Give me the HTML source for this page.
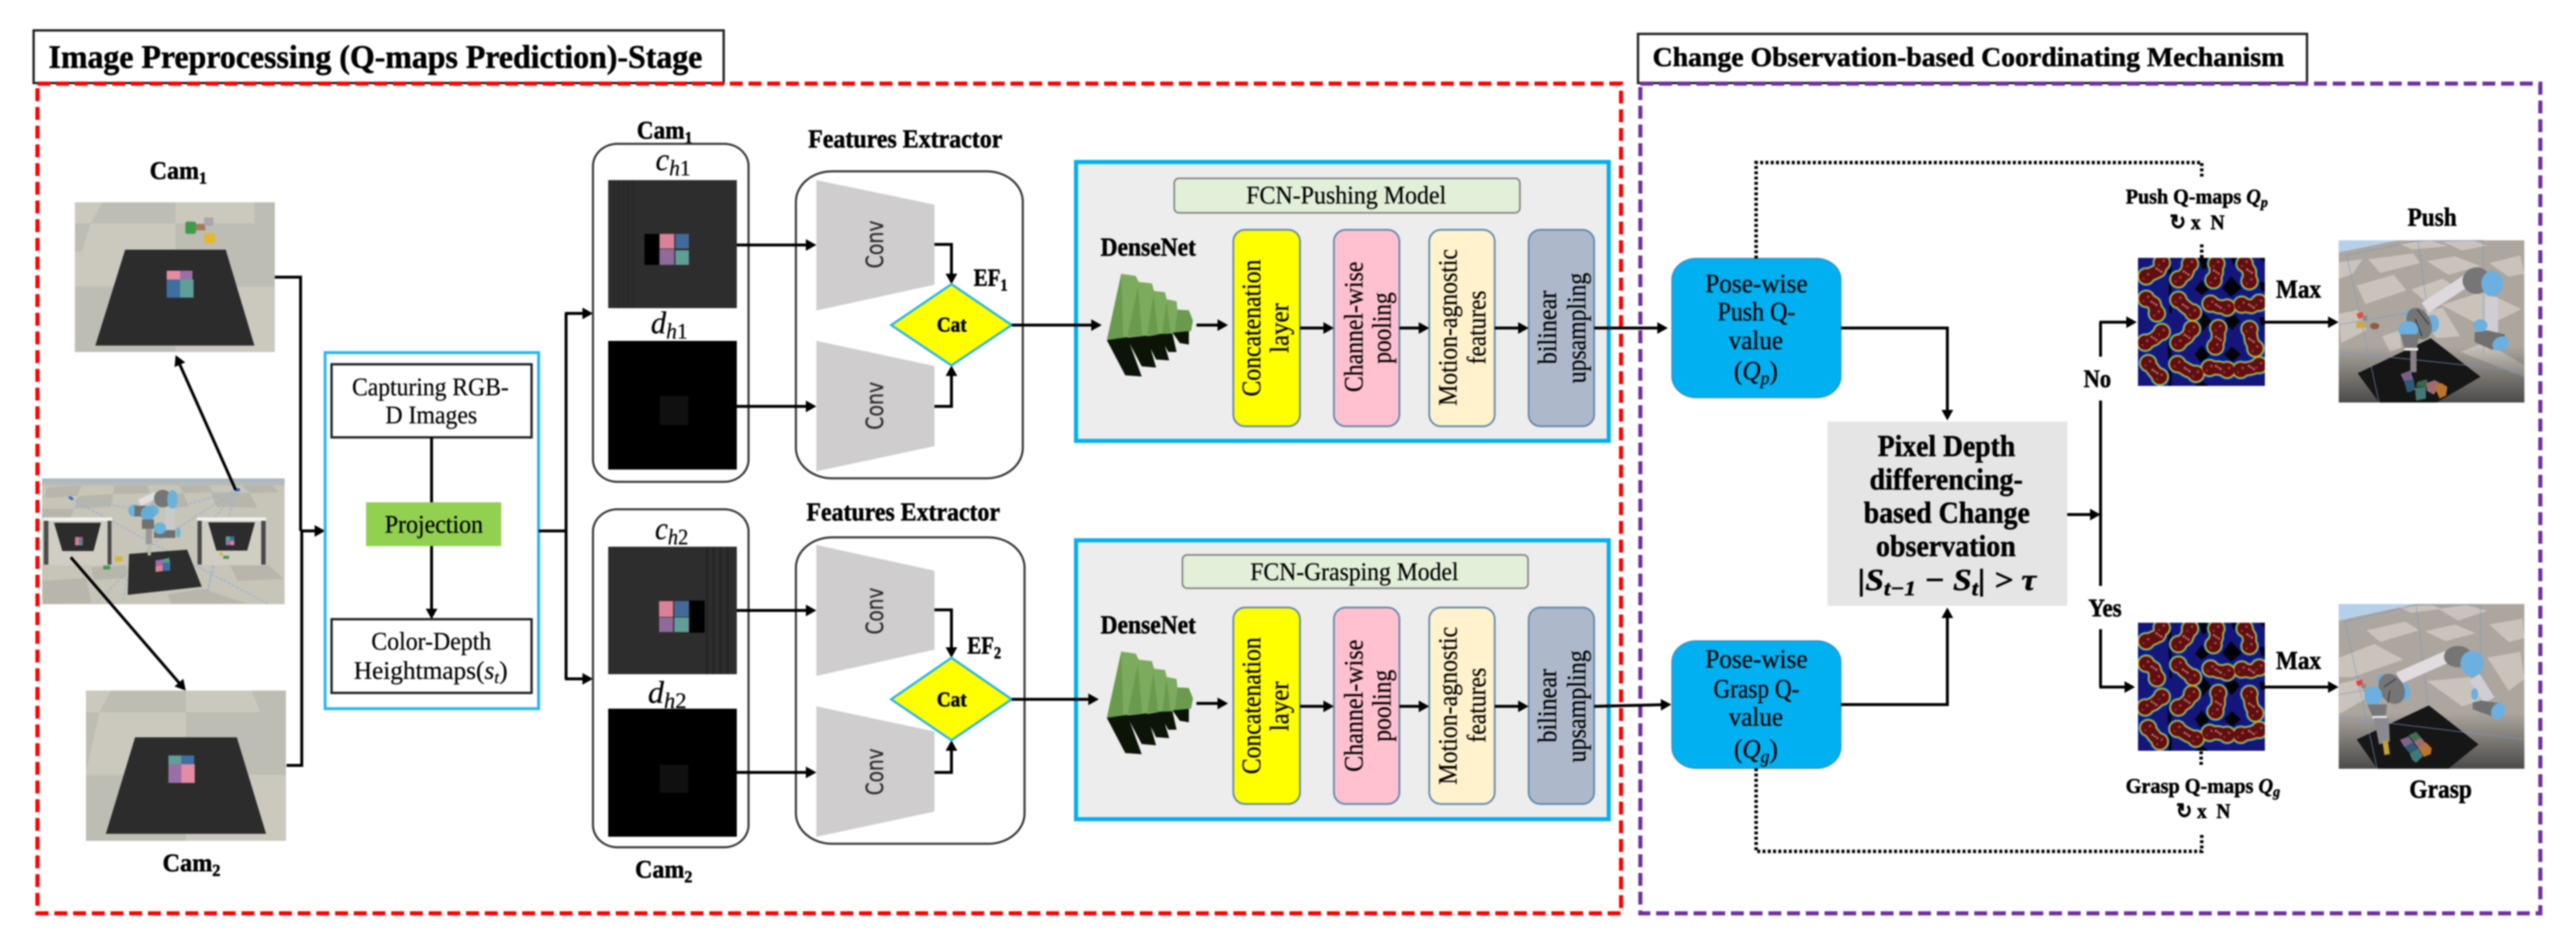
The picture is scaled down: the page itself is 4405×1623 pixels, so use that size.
<!DOCTYPE html>
<html><head><meta charset="utf-8"><title>Diagram</title>
<style>
html,body{margin:0;padding:0;background:#fff}
svg{display:block;filter:blur(1.3px)}
text{font-family:"Liberation Serif",serif;fill:#000;white-space:pre;stroke:#000;stroke-width:.35}
.b{font-weight:bold;stroke-width:.8}
.ln{fill:none;stroke:#000;stroke-width:5}
.ar{fill:none;stroke:#000;stroke-width:5;marker-end:url(#a)}
.box{fill:#fff;stroke:#222;stroke-width:4}
.rb{fill:#fff;stroke:#333;stroke-width:3.5}
.dot{fill:none;stroke:#000;stroke-width:6;stroke-dasharray:5 4}
.layer{stroke:#5f88ad;stroke-width:3}
.conv{fill:#cfcdce}
.cv{font-family:"DejaVu Sans",sans-serif;fill:#2a2a2a;stroke:#2a2a2a;stroke-width:.4}
</style></head>
<body>
<svg xmlns="http://www.w3.org/2000/svg" width="4405" height="1623" viewBox="0 0 4405 1623">
<defs>
<marker id="a" markerUnits="userSpaceOnUse" markerWidth="18" markerHeight="20" refX="14" refY="10" orient="auto" viewBox="0 0 18 20"><path d="M0,0L18,10L0,20Z" fill="#000"/></marker>
<linearGradient id="fd" x1="0" y1="0" x2="0" y2="1"><stop offset="0" stop-color="#3a3a3a" stop-opacity="0"/><stop offset="1" stop-color="#3a3a3a" stop-opacity=".85"/></linearGradient>
<linearGradient id="sky" x1="0" y1="0" x2="0" y2="1"><stop offset="0" stop-color="#a3b6c6"/><stop offset="1" stop-color="#bfbdb2"/></linearGradient>
<clipPath id="hc"><rect x="18" y="15" width="651" height="657"/></clipPath>
<g id="dn">
<g fill="#6a9a4e">
<path d="M1130,1140L1165,918L1200,925L1180,1130Z"/><path d="M1180,1130L1205,945L1240,950L1228,1125Z"/><path d="M1228,1125L1243,975L1272,980L1265,1120Z"/><path d="M1262,1120L1275,1003L1300,1010L1295,1117Z"/><path d="M1295,1115L1302,1038L1330,1040L1340,1075L1335,1110Z"/>
</g>
<g fill="#7cab5d"><path d="M1165,918L1200,925L1208,945L1180,1130L1170,1132Z"/><path d="M1205,945L1240,950L1245,975L1228,1125L1216,1127Z"/><path d="M1243,975L1272,980L1276,1003L1265,1120L1255,1120Z"/><path d="M1275,1003L1300,1010L1302,1038L1295,1117L1285,1117Z"/></g>
<g fill="#0c1408">
<path d="M1130,1140L1180,1130L1215,1262L1175,1258Z"/><path d="M1178,1132L1228,1125L1250,1232L1215,1228Z"/><path d="M1222,1128L1263,1120L1282,1208L1250,1205Z"/><path d="M1255,1120L1290,1118L1300,1180L1280,1180Z"/><path d="M1290,1115L1330,1110L1330,1155L1308,1150Z"/>
</g>
</g>
<path id="blob" fill="none" stroke-linecap="round" stroke-linejoin="round" d="M60,110L125,80L140,40M225,125L265,95L285,45M405,130L420,90L420,45M590,135L590,85L565,45M60,225L100,250L115,300M225,230L260,265L300,295M390,250L430,265L475,270M550,255L600,265L640,245M55,450L100,430L140,395M225,450L270,420L295,380M430,375L430,430L415,470M590,380L600,440L620,480M70,555L105,600L130,625M220,560L270,590L315,610M385,580L430,580L475,590M545,590L600,580L640,565"/>
<path id="lobe" fill="none" stroke-linecap="round" d="M60,110h.1M140,40h.1M225,125h.1M285,45h.1M405,130h.1M420,45h.1M590,135h.1M565,45h.1M60,225h.1M115,300h.1M225,230h.1M300,295h.1M390,250h.1M475,270h.1M550,255h.1M640,245h.1M55,450h.1M140,395h.1M225,450h.1M295,380h.1M430,375h.1M415,470h.1M590,380h.1M620,480h.1M70,555h.1M130,625h.1M220,560h.1M315,610h.1M385,580h.1M475,590h.1M545,590h.1M640,565h.1"/>
<path id="mid" fill="none" stroke-linecap="round" d="M125,80h.1M265,95h.1M420,90h.1M590,85h.1M100,250h.1M260,265h.1M430,265h.1M600,265h.1M100,430h.1M270,420h.1M430,430h.1M600,440h.1M105,600h.1M270,590h.1M430,580h.1M600,580h.1"/>
<g id="heat">
<g transform="translate(3650,436) scale(.33333)" clip-path="url(#hc)">
<rect x="18" y="15" width="651" height="657" fill="#15157a"/>
<path d="M325,15H372V65L350,75ZM495,15H535L510,55ZM345,285L395,340L345,395L300,340ZM500,290L540,340L500,385L455,340ZM345,130L385,175L345,205L310,175ZM495,110L550,170L495,215L450,170ZM170,15H190V300H180ZM170,400H190V672H175ZM345,465L385,510L345,560L310,510ZM500,470L545,510L500,550L460,510ZM640,15H669V40ZM640,140H669V190L650,180ZM640,320H669V360H650ZM340,640L380,672H310Z" fill="#020208"/>
<use href="#blob" stroke="#1458c8" stroke-width="84"/><use href="#lobe" stroke="#1458c8" stroke-width="100"/>
<use href="#blob" stroke="#30c8a8" stroke-width="76"/><use href="#lobe" stroke="#30c8a8" stroke-width="92"/>
<use href="#blob" stroke="#d8d020" stroke-width="70"/><use href="#lobe" stroke="#d8d020" stroke-width="86"/>
<use href="#blob" stroke="#dd6410" stroke-width="65"/><use href="#lobe" stroke="#dd6410" stroke-width="81"/>
<use href="#blob" stroke="#5c1012" stroke-width="57"/><use href="#lobe" stroke="#5c1012" stroke-width="73"/>
<use href="#lobe" stroke="#c03a3a" stroke-width="14" transform="translate(10,-10)"/>
<use href="#lobe" stroke="#a52a2a" stroke-width="12" transform="translate(-14,12)"/>
<use href="#mid" stroke="#c0607a" stroke-width="13" transform="translate(-12,-10)"/>
<use href="#mid" stroke="#c0607a" stroke-width="13" transform="translate(12,6)"/>
<use href="#mid" stroke="#d08040" stroke-width="10" transform="translate(0,-2)"/>
</g>
</g>
</defs>

<rect width="4405" height="1623" fill="#fff"/>

<!-- Title boxes -->
<rect x="57.5" y="52" width="1180" height="90" class="box" stroke-width="3"/>
<text class="b" x="83" y="116" font-size="56" textLength="1118" lengthAdjust="spacingAndGlyphs">Image Preprocessing (Q-maps Prediction)-Stage</text>
<rect x="2801" y="58" width="1144" height="84" class="box" stroke-width="3"/>
<text class="b" x="2826" y="113" font-size="47" textLength="1080" lengthAdjust="spacingAndGlyphs">Change Observation-based Coordinating Mechanism</text>

<!-- Dashed frames -->
<rect x="64" y="143" width="2708" height="1419" fill="none" stroke="#fe0000" stroke-width="7" stroke-dasharray="22 10"/>
<rect x="2805" y="143" width="1539" height="1419" fill="none" stroke="#7030a0" stroke-width="7" stroke-dasharray="22 10"/>

<!-- Cam1 image -->
<text class="b" x="256" y="306" font-size="43" textLength="98" lengthAdjust="spacingAndGlyphs">Cam<tspan font-size="29" dy="8">1</tspan></text>
<rect x="128" y="346" width="342" height="256" fill="#cbc8be"/>
<path d="M175,346L300,346L300,382L155,382ZM300,382L470,382L470,490L300,490ZM128,382L155,382L140,430L128,430ZM435,346L470,346L470,382L435,382ZM128,490L300,490L300,602L128,602Z" fill="#bdbbb1" opacity=".9"/>
<path d="M214,427L386,427L435,591L163,591Z" fill="#2c2c2c"/>
<rect x="285" y="463" width="23" height="15" fill="#e58ba3"/><rect x="308" y="463" width="21" height="15" fill="#9a6fa8"/>
<rect x="285" y="478" width="23" height="31" fill="#3f6f9f"/><rect x="308" y="478" width="23" height="31" fill="#5e9f98"/>
<rect x="317" y="379" width="18" height="21" fill="#3f9a4c" rx="3"/><rect x="335" y="383" width="16" height="11" fill="#a6795f"/><rect x="349" y="372" width="16" height="14" fill="#b0a2ae"/><rect x="349" y="399" width="19" height="17" fill="#e2b92e" rx="3"/>

<!-- Center scene -->
<g transform="translate(60,810) scale(.33333)">
<rect x="35" y="25" width="1245" height="645" fill="#c7c4b8"/>
<path d="M60,70L240,60L215,115L50,125ZM410,50L570,50L590,100L400,105ZM730,40L880,40L910,95L760,100ZM1040,40L1200,40L1250,95L1100,100ZM225,115L400,105L390,170L200,180ZM590,100L760,100L790,170L600,175ZM900,95L1100,100L1140,175L930,170ZM40,550L260,535L290,665L40,670ZM680,620L860,590L1080,665L700,668ZM290,480L470,470L470,535L300,545ZM1000,470L1200,470L1275,540L1040,550ZM35,180L200,180L180,230H35Z" fill="#b8b6ac"/>
<rect x="35" y="25" width="1245" height="36" fill="url(#sky)"/>
<g stroke="#8fb0dc" stroke-width="5" fill="none" stroke-dasharray="14 10"><path d="M185,130L480,175M185,130L590,350L1200,670M1035,85L620,350L310,670M1035,85L830,340M1035,85L720,175M1035,85L880,610M470,540L450,660M910,470L885,610"/></g>
<rect x="40" y="225" width="355" height="245" fill="#d0cdc3"/><rect x="40" y="225" width="355" height="17" fill="#f2f2f2"/>
<rect x="45" y="242" width="23" height="225" fill="#4a4a4a"/><rect x="372" y="242" width="20" height="225" fill="#4a4a4a"/>
<path d="M97,252L338,252L300,397L140,397Z" fill="#2c2c2c"/>
<rect x="205" y="325" width="20" height="22" fill="#cc7f95"/><rect x="225" y="325" width="20" height="22" fill="#8a6a9a"/><rect x="205" y="347" width="20" height="21" fill="#d87f90"/><rect x="225" y="347" width="20" height="21" fill="#4f8a90"/>
<rect x="830" y="225" width="355" height="245" fill="#d0cdc3"/><rect x="830" y="225" width="355" height="17" fill="#f2f2f2"/>
<rect x="833" y="242" width="22" height="225" fill="#4a4a4a"/><rect x="1160" y="242" width="23" height="225" fill="#4a4a4a"/>
<path d="M888,250L1128,250L1088,395L930,395Z" fill="#2c2c2c"/>
<rect x="978" y="322" width="22" height="22" fill="#5a9f98"/><rect x="1000" y="322" width="22" height="22" fill="#3f6f9f"/><rect x="978" y="344" width="22" height="23" fill="#9a6fa8"/><rect x="1000" y="344" width="22" height="23" fill="#dd8099"/>
<rect x="945" y="405" width="18" height="15" fill="#d9b23a"/><rect x="965" y="422" width="30" height="15" fill="#3f9a4c"/>
<path d="M482,412L780,390L855,580L475,622Z" fill="#2d2d2d"/>
<path d="M618,445L655,440V500L618,505Z" fill="#e07f95"/><path d="M618,445L655,440V470L618,475Z" fill="#9a6fa8"/><path d="M655,458L693,455V498L655,500Z" fill="#3f6f9f"/><path d="M655,440L688,432L692,456L655,458Z" fill="#4f9f90"/>
<rect x="350" y="472" width="35" height="20" fill="#3f9a4c"/><rect x="410" y="425" width="38" height="26" fill="#dcb42c"/>
<rect x="172" y="120" width="24" height="12" fill="#2a62c8" transform="rotate(30 184 126)"/><rect x="1028" y="75" width="22" height="16" fill="#2a62c8"/>
<!-- robot -->
<rect x="670" y="175" width="46" height="125" fill="#cbcacb"/>
<path d="M620,110L535,150" stroke="#dfdfe2" stroke-width="36" fill="none"/>
<ellipse cx="655" cy="128" rx="45" ry="45" fill="#757575"/><ellipse cx="705" cy="132" rx="27" ry="48" fill="#6cb3da"/>
<ellipse cx="510" cy="190" rx="32" ry="32" fill="#6cb3da"/><ellipse cx="600" cy="190" rx="35" ry="30" fill="#6cb3da"/><rect x="510" y="165" width="60" height="55" fill="#6f6f6f"/><ellipse cx="578" cy="205" rx="36" ry="38" fill="#62acd8"/>
<rect x="548" y="235" width="62" height="48" fill="#707070"/><rect x="568" y="283" width="32" height="80" fill="#999"/><rect x="578" y="360" width="16" height="60" fill="#bba"/>
<rect x="610" y="290" width="110" height="40" fill="#6f6f6f"/><ellipse cx="640" cy="280" rx="32" ry="30" fill="#6cb3da"/><ellipse cx="735" cy="303" rx="11" ry="26" fill="#6cb3da"/>
</g>

<!-- Cam2 image -->
<rect x="147" y="1181" width="342" height="257" fill="#cbc8be"/>
<path d="M190,1181L318,1181L318,1218L170,1218ZM430,1181L489,1181L489,1218L445,1218ZM318,1218L489,1218L489,1325L318,1325ZM147,1218L170,1218L147,1320ZM147,1325L318,1325V1438H147Z" fill="#bdbbb1" opacity=".9"/>
<path d="M231,1261L405,1261L455,1426L181,1426Z" fill="#2c2c2c"/>
<rect x="288" y="1292" width="22" height="15" fill="#5e9f98"/><rect x="310" y="1292" width="22" height="15" fill="#3f6f9f"/>
<rect x="288" y="1307" width="22" height="32" fill="#9a6fa8"/><rect x="310" y="1307" width="23" height="32" fill="#e58ba3"/>
<text class="b" x="278" y="1490" font-size="43" textLength="99" lengthAdjust="spacingAndGlyphs">Cam<tspan font-size="29" dy="8">2</tspan></text>

<!-- Camera arrows -->
<path class="ar" stroke-width="4" d="M403,838L302,611"/>
<path class="ar" stroke-width="4" d="M121,953L315,1178"/>
<path class="ln" d="M470,474H514V908M490,1309H516V908"/>
<path class="ar" d="M514,908H552"/>

<!-- Capture block -->
<rect x="556" y="603" width="365" height="609" fill="#fff" stroke="#29b6f0" stroke-width="5"/>
<rect x="567" y="623" width="342" height="125" class="box"/>
<text x="602" y="676" font-size="43" textLength="268" lengthAdjust="spacingAndGlyphs">Capturing RGB-</text>
<text x="659" y="724" font-size="43" textLength="157" lengthAdjust="spacingAndGlyphs">D Images</text>
<path class="ln" stroke-width="4" d="M738,748V859"/>
<rect x="626" y="859" width="231" height="75" fill="#92d050"/>
<text x="658" y="911" font-size="43" textLength="168" lengthAdjust="spacingAndGlyphs">Projection</text>
<path class="ar" stroke-width="4" d="M738,934V1055"/>
<rect x="567" y="1059" width="342" height="126" class="box"/>
<text x="635" y="1111" font-size="43" textLength="205" lengthAdjust="spacingAndGlyphs">Color-Depth</text>
<text x="605" y="1161" font-size="43" textLength="263" lengthAdjust="spacingAndGlyphs">Heightmaps(<tspan font-style="italic">s</tspan><tspan font-style="italic" font-size="30" dy="7">t</tspan><tspan dy="-7">)</tspan></text>

<path class="ln" d="M921,908H968"/>
<path class="ln" d="M968,536V1161"/>
<path class="ar" d="M966,536H1010"/>
<path class="ar" d="M966,1161H1010"/>

<!-- Heightmap panels -->
<text class="b" x="1089" y="237" font-size="43" textLength="95" lengthAdjust="spacingAndGlyphs">Cam<tspan font-size="29" dy="8">1</tspan></text>
<rect x="1014" y="246" width="266" height="578" rx="42" ry="38" class="rb"/>
<text x="1121" y="291" font-size="54" font-style="italic" textLength="60" lengthAdjust="spacingAndGlyphs">c<tspan font-size="38" dy="9">h<tspan font-style="normal">1</tspan></tspan></text>
<rect x="1040" y="308" width="220" height="219" fill="#2d2d2d"/>
<path d="M1050,308V527M1058,308V527M1066,308V527M1074,308V527M1082,308V527" stroke="#262626" stroke-width="2"/>
<rect x="1102" y="400" width="25" height="53" fill="#000"/>
<rect x="1128" y="400" width="25" height="25" fill="#dd8099"/><rect x="1155" y="400" width="23" height="25" fill="#41699a"/>
<rect x="1128" y="426" width="25" height="27" fill="#8f6a9b"/><rect x="1155" y="428" width="23" height="25" fill="#5e9f98"/>
<text x="1113" y="570" font-size="54" font-style="italic" textLength="63" lengthAdjust="spacingAndGlyphs">d<tspan font-size="38" dy="9">h<tspan font-style="normal">1</tspan></tspan></text>
<rect x="1040" y="583" width="220" height="220" fill="#000"/>
<rect x="1128" y="677" width="49" height="50" fill="#101010"/>

<rect x="1014" y="871" width="266" height="578" rx="42" ry="38" class="rb"/>
<text x="1120" y="922" font-size="54" font-style="italic" textLength="57" lengthAdjust="spacingAndGlyphs">c<tspan font-size="38" dy="9">h<tspan font-style="normal">2</tspan></tspan></text>
<rect x="1040" y="935" width="220" height="218" fill="#2d2d2d"/>
<path d="M1209,935V1153M1220,935V1153M1232,935V1153M1244,935V1153" stroke="#222" stroke-width="3"/>
<rect x="1127" y="1028" width="24" height="27" fill="#dd8099"/><rect x="1153" y="1028" width="25" height="27" fill="#41699a"/>
<rect x="1127" y="1056" width="24" height="25" fill="#8f6a9b"/><rect x="1153" y="1056" width="25" height="25" fill="#5e9f98"/>
<rect x="1179" y="1027" width="26" height="55" fill="#000"/>
<text x="1108" y="1202" font-size="54" font-style="italic" textLength="66" lengthAdjust="spacingAndGlyphs">d<tspan font-size="38" dy="9">h<tspan font-style="normal">2</tspan></tspan></text>
<rect x="1040" y="1212" width="220" height="219" fill="#000"/>
<rect x="1128" y="1308" width="49" height="48" fill="#101010"/>
<text class="b" x="1086" y="1501" font-size="43" textLength="98" lengthAdjust="spacingAndGlyphs">Cam<tspan font-size="29" dy="8">2</tspan></text>

<!-- Feature extractors -->
<text class="b" x="1382" y="252" font-size="44" textLength="332" lengthAdjust="spacingAndGlyphs">Features Extractor</text>
<rect x="1361" y="293" width="388" height="525" rx="62" ry="52" class="rb"/>
<path class="conv" d="M1396,308L1598,350V487L1396,531Z"/>
<path class="conv" d="M1396,583L1598,626V763L1396,806Z"/>
<text class="b" x="1379" y="890" font-size="44" textLength="331" lengthAdjust="spacingAndGlyphs">Features Extractor</text>
<rect x="1361" y="919" width="391" height="524" rx="62" ry="52" class="rb"/>
<path class="conv" d="M1396,932L1598,976V1111L1396,1156Z"/>
<path class="conv" d="M1396,1208L1598,1251V1388L1396,1431Z"/>
<text class="cv" font-size="40" transform="translate(1510,418) rotate(-90)" text-anchor="middle" textLength="82" lengthAdjust="spacingAndGlyphs">Conv</text>
<text class="cv" font-size="40" transform="translate(1510,694) rotate(-90)" text-anchor="middle" textLength="82" lengthAdjust="spacingAndGlyphs">Conv</text>
<text class="cv" font-size="40" transform="translate(1510,1045) rotate(-90)" text-anchor="middle" textLength="80" lengthAdjust="spacingAndGlyphs">Conv</text>
<text class="cv" font-size="40" transform="translate(1510,1320) rotate(-90)" text-anchor="middle" textLength="80" lengthAdjust="spacingAndGlyphs">Conv</text>
<g>
<path class="ar" d="M1260,419H1392"/><path class="ar" d="M1260,695H1392"/>
<path class="ar" d="M1260,1044H1392"/><path class="ar" d="M1260,1321H1392"/>
<path class="ar" d="M1598,418H1627V482"/><path class="ar" d="M1598,695H1627V629"/>
<path class="ar" d="M1598,1043H1627V1121"/><path class="ar" d="M1598,1321H1627V1270"/>
</g>
<path d="M1627,486L1730,556L1627,625L1524,556Z" fill="#ffff00" stroke="#2bb5e8" stroke-width="4"/>
<path d="M1627,1125L1730,1196L1627,1266L1524,1196Z" fill="#ffff00" stroke="#2bb5e8" stroke-width="4"/>
<text class="b" x="1602" y="567" font-size="36" textLength="51" lengthAdjust="spacingAndGlyphs">Cat</text>
<text class="b" x="1602" y="1208" font-size="36" textLength="51" lengthAdjust="spacingAndGlyphs">Cat</text>
<text class="b" x="1665" y="489" font-size="42" textLength="58" lengthAdjust="spacingAndGlyphs">EF<tspan font-size="29" dy="8">1</tspan></text>
<text class="b" x="1654" y="1118" font-size="42" textLength="58" lengthAdjust="spacingAndGlyphs">EF<tspan font-size="29" dy="8">2</tspan></text>

<!-- FCN Pushing -->
<rect x="1840" y="277" width="911" height="477" fill="#ededed" stroke="#00b0f0" stroke-width="7"/>
<rect x="2008" y="305" width="591" height="59" rx="8" fill="#e2efd9" stroke="#777" stroke-width="2.5"/>
<text x="2131" y="348" font-size="43" textLength="342" lengthAdjust="spacingAndGlyphs">FCN-Pushing Model</text>
<text class="b" x="1882" y="437" font-size="44" textLength="163" lengthAdjust="spacingAndGlyphs">DenseNet</text>
<g transform="translate(1100,0) scale(.7015,.5102)"><use href="#dn"/></g>
<path class="ar" d="M1730,556H1880"/>
<path class="ar" d="M2046,556H2096"/>
<rect x="2109" y="393" width="114" height="336" rx="20" fill="#ffff00" class="layer"/>
<rect x="2281" y="393" width="112" height="336" rx="20" fill="#ffc0d0" class="layer"/>
<rect x="2444" y="393" width="112" height="336" rx="20" fill="#fff2cc" class="layer"/>
<rect x="2614" y="393" width="112" height="336" rx="20" fill="#adb9ca" class="layer"/>
<g font-size="45">
<text transform="translate(2155,561) rotate(-90)" text-anchor="middle" textLength="234" lengthAdjust="spacingAndGlyphs">Concatenation</text>
<text transform="translate(2203,561) rotate(-90)" text-anchor="middle" textLength="85" lengthAdjust="spacingAndGlyphs">layer</text>
<text transform="translate(2330,559) rotate(-90)" text-anchor="middle" textLength="223" lengthAdjust="spacingAndGlyphs">Channel-wise</text>
<text transform="translate(2378,561) rotate(-90)" text-anchor="middle" textLength="122" lengthAdjust="spacingAndGlyphs">pooling</text>
<text transform="translate(2491,560) rotate(-90)" text-anchor="middle" textLength="268" lengthAdjust="spacingAndGlyphs">Motion-agnostic</text>
<text transform="translate(2540,560) rotate(-90)" text-anchor="middle" textLength="126" lengthAdjust="spacingAndGlyphs">features</text>
<text transform="translate(2661,560) rotate(-90)" text-anchor="middle" textLength="126" lengthAdjust="spacingAndGlyphs">bilinear</text>
<text transform="translate(2711,561) rotate(-90)" text-anchor="middle" textLength="189" lengthAdjust="spacingAndGlyphs">upsampling</text>
</g>
<path class="ar" d="M2223,561H2277"/><path class="ar" d="M2393,561H2440"/><path class="ar" d="M2556,561H2610"/><path class="ar" d="M2726,561H2848"/>

<!-- FCN Grasping -->
<rect x="1840" y="924" width="911" height="477" fill="#ededed" stroke="#00b0f0" stroke-width="7"/>
<rect x="2022" y="949" width="591" height="57" rx="8" fill="#e2efd9" stroke="#777" stroke-width="2.5"/>
<text x="2138" y="992" font-size="43" textLength="356" lengthAdjust="spacingAndGlyphs">FCN-Grasping Model</text>
<text class="b" x="1882" y="1083" font-size="44" textLength="163" lengthAdjust="spacingAndGlyphs">DenseNet</text>
<g transform="translate(1100,646) scale(.7015,.5102)"><use href="#dn"/></g>
<path class="ar" d="M1730,1196H1875"/>
<path class="ar" d="M2046,1203H2096"/>
<rect x="2109" y="1039" width="114" height="336" rx="20" fill="#ffff00" class="layer"/>
<rect x="2281" y="1039" width="112" height="336" rx="20" fill="#ffc0d0" class="layer"/>
<rect x="2444" y="1039" width="112" height="336" rx="20" fill="#fff2cc" class="layer"/>
<rect x="2614" y="1039" width="112" height="336" rx="20" fill="#adb9ca" class="layer"/>
<g font-size="45">
<text transform="translate(2155,1207) rotate(-90)" text-anchor="middle" textLength="234" lengthAdjust="spacingAndGlyphs">Concatenation</text>
<text transform="translate(2203,1208) rotate(-90)" text-anchor="middle" textLength="85" lengthAdjust="spacingAndGlyphs">layer</text>
<text transform="translate(2330,1207) rotate(-90)" text-anchor="middle" textLength="226" lengthAdjust="spacingAndGlyphs">Channel-wise</text>
<text transform="translate(2378,1207) rotate(-90)" text-anchor="middle" textLength="123" lengthAdjust="spacingAndGlyphs">pooling</text>
<text transform="translate(2491,1207) rotate(-90)" text-anchor="middle" textLength="270" lengthAdjust="spacingAndGlyphs">Motion-agnostic</text>
<text transform="translate(2540,1206) rotate(-90)" text-anchor="middle" textLength="128" lengthAdjust="spacingAndGlyphs">features</text>
<text transform="translate(2661,1207) rotate(-90)" text-anchor="middle" textLength="126" lengthAdjust="spacingAndGlyphs">bilinear</text>
<text transform="translate(2711,1208) rotate(-90)" text-anchor="middle" textLength="192" lengthAdjust="spacingAndGlyphs">upsampling</text>
</g>
<path class="ar" d="M2223,1208H2277"/><path class="ar" d="M2393,1208H2440"/><path class="ar" d="M2556,1208H2610"/><path class="ar" d="M2726,1208L2854,1205"/>

<!-- Q boxes -->
<rect x="2859" y="442" width="289" height="238" rx="42" ry="36" fill="#00b0f0" stroke="#3f8fc0" stroke-width="2"/>
<text x="2916" y="500" font-size="46" textLength="175" lengthAdjust="spacingAndGlyphs">Pose-wise</text>
<text x="2937" y="548" font-size="46" textLength="133" lengthAdjust="spacingAndGlyphs">Push Q-</text>
<text x="2956" y="597" font-size="46" textLength="93" lengthAdjust="spacingAndGlyphs">value</text>
<text x="2965" y="649" font-size="46" textLength="75" lengthAdjust="spacingAndGlyphs">(<tspan font-style="italic">Q</tspan><tspan font-style="italic" font-size="32" dy="8">p</tspan><tspan dy="-8">)</tspan></text>
<rect x="2859" y="1096" width="289" height="218" rx="42" ry="36" fill="#00b0f0" stroke="#3f8fc0" stroke-width="2"/>
<text x="2916" y="1142" font-size="46" textLength="175" lengthAdjust="spacingAndGlyphs">Pose-wise</text>
<text x="2930" y="1193" font-size="46" textLength="147" lengthAdjust="spacingAndGlyphs">Grasp Q-</text>
<text x="2956" y="1241" font-size="46" textLength="93" lengthAdjust="spacingAndGlyphs">value</text>
<text x="2965" y="1296" font-size="46" textLength="75" lengthAdjust="spacingAndGlyphs">(<tspan font-style="italic">Q</tspan><tspan font-style="italic" font-size="32" dy="8">g</tspan><tspan dy="-8">)</tspan></text>

<!-- Dotted feedback -->
<path class="dot" d="M3003,442V278H3765V304"/>
<path class="dot" d="M3765,418V441"/>
<path class="dot" d="M3003,1314V1456H3765V1425"/>
<path class="dot" d="M3764,1285V1312"/>

<!-- Change observation -->
<path class="ar" d="M3148,561H3330V715"/>
<path class="ar" d="M3148,1205H3330V1043"/>
<rect x="3125" y="721" width="410" height="315" fill="#e5e5e5"/>
<text class="b" x="3211" y="780" font-size="52" textLength="235" lengthAdjust="spacingAndGlyphs">Pixel Depth</text>
<text class="b" x="3197" y="837" font-size="52" textLength="262" lengthAdjust="spacingAndGlyphs">differencing-</text>
<text class="b" x="3187" y="894" font-size="52" textLength="284" lengthAdjust="spacingAndGlyphs">based Change</text>
<text class="b" x="3208" y="951" font-size="52" textLength="239" lengthAdjust="spacingAndGlyphs">observation</text>
<text class="b" x="3177" y="1009" font-size="52" font-style="italic" textLength="305" lengthAdjust="spacingAndGlyphs">|S<tspan font-size="36" dy="9">t−1</tspan><tspan dy="-9"> − S</tspan><tspan font-size="36" dy="9">t</tspan><tspan dy="-9">| &gt; τ</tspan></text>

<path class="ar" d="M3535,880H3588"/>
<path class="ln" d="M3592,610V551M3592,685V1002M3592,1076V1175"/>
<path class="ar" d="M3590,551H3650"/>
<path class="ar" d="M3590,1175H3647"/>
<text class="b" x="3563" y="662" font-size="43" textLength="47" lengthAdjust="spacingAndGlyphs">No</text>
<text class="b" x="3571" y="1054" font-size="43" textLength="57" lengthAdjust="spacingAndGlyphs">Yes</text>

<!-- Heatmaps -->
<use href="#heat"/>
<use href="#heat" transform="translate(0,624)"/>
<text class="b" x="3635" y="348" font-size="36" textLength="243" lengthAdjust="spacingAndGlyphs">Push Q-maps <tspan font-style="italic">Q</tspan><tspan font-style="italic" font-size="25" dy="6">p</tspan></text>
<text class="b" x="3710" y="392" font-size="36" textLength="94" lengthAdjust="spacingAndGlyphs">↻ x  N</text>
<text class="b" x="3635" y="1356" font-size="36" textLength="264" lengthAdjust="spacingAndGlyphs">Grasp Q-maps <tspan font-style="italic">Q</tspan><tspan font-style="italic" font-size="25" dy="6">g</tspan></text>
<text class="b" x="3721" y="1399" font-size="36" textLength="93" lengthAdjust="spacingAndGlyphs">↻ x  N</text>
<text class="b" x="3892" y="509" font-size="44" textLength="77" lengthAdjust="spacingAndGlyphs">Max</text>
<text class="b" x="3892" y="1144" font-size="44" textLength="77" lengthAdjust="spacingAndGlyphs">Max</text>
<path class="ar" d="M3873,551H3995"/>
<path class="ar" d="M3873,1175H3995"/>

<!-- Push image -->
<text class="b" x="4117" y="386" font-size="44" textLength="84" lengthAdjust="spacingAndGlyphs">Push</text>
<g transform="translate(3990,405) scale(.33333)">
<rect x="28" y="18" width="952" height="832" fill="#aca69e"/>
<path d="M28,18H330L28,80Z" fill="#b7d0ea"/>
<path d="M180,115L410,85L445,135L240,185ZM480,125L625,100L755,150L590,195ZM335,35L500,20L590,48L405,65ZM120,250L310,195L375,275L165,345ZM400,270L560,215L640,265L470,330ZM555,350L770,280L965,370L775,465ZM800,135L960,95L980,190L900,205ZM28,395L130,375L170,480L40,545ZM250,510L340,480L350,570L290,590ZM650,590L780,540L980,660V720ZM560,25L720,20L790,45L660,70ZM28,130L150,115L100,190L28,215ZM440,400L560,360L650,510L530,520Z" fill="#cac3bb"/>
<rect x="28" y="560" width="952" height="290" fill="url(#fd)"/>
<path d="M500,520L755,718L530,850H235L125,700Z" fill="#161616"/>
<g stroke="#8097c8" stroke-width="3" fill="none"><path d="M68,95L430,20L770,18M68,95L235,850M435,20L480,350M770,20V600M30,450L560,360M30,590L980,690"/></g>
<path d="M690,220L470,365" stroke="#dcd8dc" stroke-width="62" fill="none"/>
<rect x="780" y="310" width="65" height="195" fill="#d0ced3"/>
<ellipse cx="735" cy="225" rx="72" ry="68" fill="#767676"/><ellipse cx="815" cy="240" rx="56" ry="65" fill="#6bb0e0"/>
<path d="M725,490L790,480L880,500L880,545L815,580L725,540Z" fill="#707070"/><ellipse cx="755" cy="455" rx="36" ry="32" fill="#6bb0e0"/><ellipse cx="858" cy="548" rx="44" ry="34" transform="rotate(-30 858 548)" fill="#6bb0e0"/>
<ellipse cx="402" cy="400" rx="32" ry="32" fill="#6bb0e0"/><ellipse cx="510" cy="445" rx="32" ry="46" fill="#6bb0e0"/>
<ellipse cx="440" cy="445" rx="60" ry="85" transform="rotate(-25 440 445)" fill="#757575"/>
<path d="M430,372L490,450M420,420L455,510" stroke="#333" stroke-width="5" fill="none"/>
<ellipse cx="385" cy="475" rx="52" ry="42" fill="#6bb0e0"/><path d="M345,500H440L430,570L365,575Z" fill="#777"/>
<rect x="365" y="570" width="70" height="14" fill="#e8e8e8"/><rect x="395" y="585" width="32" height="110" fill="#8a8088"/>
<path d="M118,395L150,385L155,412L130,422Z" fill="#e8483a"/><rect x="150" y="405" width="24" height="26" fill="#8a8a8a"/><rect x="118" y="436" width="42" height="32" fill="#d0a93a"/><ellipse cx="212" cy="458" rx="24" ry="17" fill="#8a6045"/>
<path d="M345,705L395,685L412,735L365,745Z" fill="#7a6088"/><path d="M362,740L412,730L420,785L380,800Z" fill="#2f5a78"/><path d="M430,745L480,730L490,770L425,770Z" fill="#37684a"/><path d="M418,775L475,770L475,830L425,840Z" fill="#3f7a78"/><path d="M478,750L520,735L555,755L515,810L480,790Z" fill="#a06a70"/><path d="M518,765L555,750L585,770L578,815L545,830Z" fill="#b8752e"/>
</g>

<!-- Grasp image -->
<g transform="translate(3990,1028) scale(.33333)">
<rect x="28" y="15" width="952" height="845" fill="#aca69e"/>
<path d="M28,15H420L28,100Z" fill="#b7d0ea"/>
<path d="M170,150L370,105L440,150L240,210ZM470,155L625,120L730,165L575,205ZM30,290L210,220L360,300L100,390H30ZM540,40L680,20L790,50L640,100ZM800,120L970,90L980,190L900,210ZM790,290L960,260L980,400L900,460ZM30,425L130,400L170,500L30,580ZM480,410L700,390L800,500L660,540ZM330,30L500,20L560,40L400,60Z" fill="#cac3bb"/>
<rect x="28" y="570" width="952" height="290" fill="url(#fd)"/>
<path d="M490,535L745,735L590,860H225L120,710Z" fill="#161616"/>
<g stroke="#8097c8" stroke-width="3" fill="none"><path d="M60,105L425,20L755,18M60,105L225,860M425,20L485,530M755,20V600M30,480L260,440M30,595L980,710"/></g>
<path d="M585,285L335,395" stroke="#e0dce0" stroke-width="62" fill="none"/>
<path d="M725,390L800,510" stroke="#d0ced4" stroke-width="62" fill="none"/>
<ellipse cx="640" cy="285" rx="72" ry="55" fill="#757575"/><ellipse cx="712" cy="320" rx="60" ry="65" fill="#6bb0e0"/>
<path d="M715,520L760,510L860,525L860,565L810,590L715,555Z" fill="#707070"/><ellipse cx="725" cy="477" rx="18" ry="30" fill="#6bb0e0"/><ellipse cx="845" cy="565" rx="34" ry="44" transform="rotate(25 845 565)" fill="#6bb0e0"/>
<ellipse cx="255" cy="405" rx="32" ry="32" fill="#6bb0e0"/><ellipse cx="365" cy="465" rx="30" ry="45" fill="#6bb0e0"/>
<ellipse cx="300" cy="450" rx="62" ry="82" transform="rotate(-30 300 450)" fill="#757575"/>
<path d="M260,440L320,400M280,520L290,460" stroke="#333" stroke-width="5" fill="none"/>
<ellipse cx="205" cy="485" rx="46" ry="48" fill="#6bb0e0"/><path d="M175,530H275L270,585L200,590Z" fill="#777"/>
<rect x="200" y="590" width="75" height="12" fill="#e8e8e8"/><path d="M208,600H285L290,720L235,735Z" fill="#8a8a90"/>
<path d="M252,720L280,715L290,785L262,790Z" fill="#c8a030"/>
<path d="M115,412L148,402L152,430L125,436Z" fill="#e8403a"/><rect x="142" y="425" width="25" height="22" fill="#8a8a8a"/>
<path d="M385,690L425,670L450,700L412,722Z" fill="#3f7050"/><path d="M342,712L385,695L410,725L365,750Z" fill="#7d6488"/><path d="M412,722L450,700L475,730L440,760Z" fill="#a06a70"/><path d="M365,750L410,725L435,760L395,785Z" fill="#2f5a78"/><path d="M440,760L475,725L505,755L500,785L465,800Z" fill="#b8752e"/><path d="M392,785L435,755L460,795L425,830L405,815Z" fill="#3f7a78"/>
</g>
<text class="b" x="4120" y="1364" font-size="44" textLength="107" lengthAdjust="spacingAndGlyphs">Grasp</text>
</svg>
</body></html>
